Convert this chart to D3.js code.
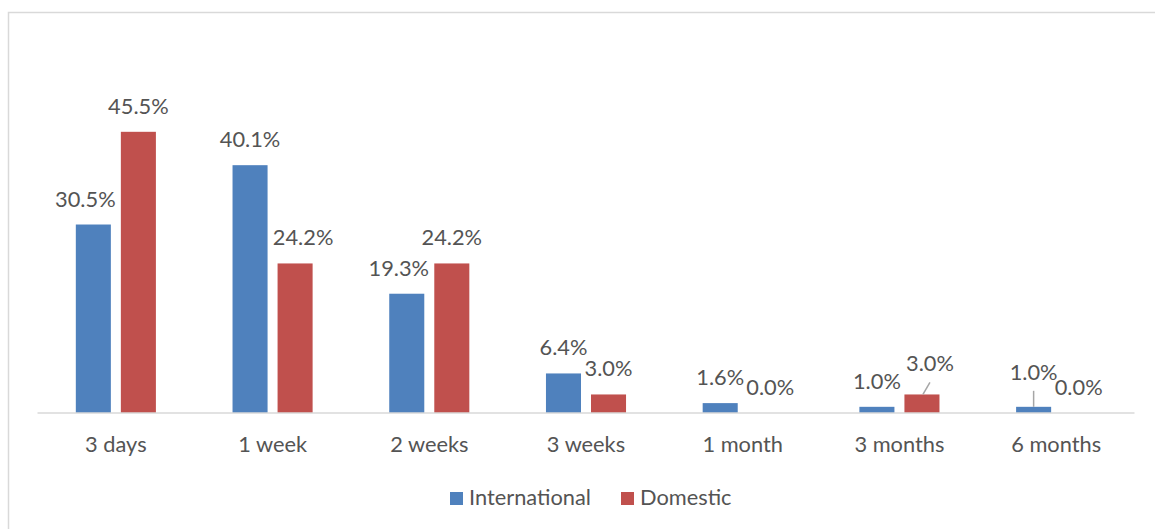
<!DOCTYPE html>
<html>
<head>
<meta charset="utf-8">
<script src="https://cdn.jsdelivr.net/npm/d3@7"></script>
<style>
  html, body { margin: 0; padding: 0; background: #ffffff; }
  svg { display: block; }
  text { font-family: Lato, "Open Sans", sans-serif; fill: #545454; }
</style>
</head>
<body>
<svg id="chart" width="1155" height="529"></svg>
<script>
// Time categories along the x axis
const categories = ["3 days", "1 week", "2 weeks", "3 weeks", "1 month", "3 months", "6 months"];
const seriesNames = ["International", "Domestic"];
// Share of respondents per category (%)
const international = [30.5, 40.1, 19.3, 6.4, 1.6, 1.0, 1.0];
const domestic = [45.5, 24.2, 24.2, 3.0, 0.0, 3.0, 0.0];
const colors = ["#4F81BD", "#C0504D"];

const W = 1155, H = 529;
const margin = { left: 37.5, right: 20.5, top: 104, baseline: 413 };
const fontSize = 21.8;

const svg = d3.select("#chart");

// Chart frame
svg.append("rect")
  .attr("x", 8.5).attr("y", 12.5)
  .attr("width", W + 20).attr("height", H + 20)
  .attr("fill", "#ffffff")
  .attr("stroke", "#d9d9d9").attr("stroke-width", 1.5);

const x0 = d3.scaleBand()
  .domain(categories)
  .range([margin.left, W - margin.right])
  .paddingInner(0.489)
  .paddingOuter(0.2445);

const x1 = d3.scaleBand()
  .domain(seriesNames)
  .range([0, x0.bandwidth()])
  .paddingInner(0.222);

const y = d3.scaleLinear().domain([0, 50]).range([margin.baseline, margin.top]);

const rows = categories.map((c, i) => ({
  category: c,
  values: [
    { series: seriesNames[0], value: international[i], color: colors[0] },
    { series: seriesNames[1], value: domestic[i], color: colors[1] }
  ]
}));

const groups = svg.append("g").selectAll("g")
  .data(rows).join("g")
  .attr("transform", d => `translate(${x0(d.category)},0)`);

groups.selectAll("rect")
  .data(d => d.values).join("rect")
  .attr("x", d => x1(d.series))
  .attr("y", d => y(d.value))
  .attr("width", x1.bandwidth())
  .attr("height", d => y(0) - y(d.value))
  .attr("fill", d => d.color);

// Baseline axis with category labels
const axis = svg.append("g")
  .attr("transform", `translate(0,${margin.baseline})`)
  .call(d3.axisBottom(x0).tickSize(0).tickPadding(0));
axis.select(".domain").attr("stroke", "#d9d9d9").attr("stroke-width", 1.5)
  .attr("d", `M${margin.left},0H${W - margin.right}`);
axis.selectAll(".tick text")
  .attr("y", 39).attr("dy", 0)
  .attr("font-size", fontSize)
  .style("font-family", "Lato, 'Open Sans', sans-serif")
  .attr("fill", "#545454");

// Hand-placed label nudges where neighbouring labels would collide [dx, dy]
const labelNudge = {
  "3 days|International": [-8, 0],
  "1 week|Domestic": [8, 0],
  "2 weeks|International": [-8, 0],
  "1 month|Domestic": [5, 0],
  "3 months|Domestic": [8, -5],
  "6 months|International": [0, -9]
};
const leaders = {
  "3 months|Domestic": true,
  "6 months|International": true
};

const labels = svg.append("g");
rows.forEach(r => {
  r.values.forEach(v => {
    const key = r.category + "|" + v.series;
    const n = labelNudge[key] || [0, 0];
    const cx = x0(r.category) + x1(v.series) + x1.bandwidth() / 2;
    const top = y(v.value);
    const lx = cx + n[0];
    const ly = top - 18 + n[1];
    labels.append("text")
      .attr("x", lx).attr("y", ly)
      .attr("text-anchor", "middle")
      .attr("font-size", fontSize)
      .text(v.value.toFixed(1) + "%");
    if (leaders[key]) {
      labels.append("line")
        .attr("x1", cx + (n[0] ? 1 : 0)).attr("y1", top)
        .attr("x2", lx).attr("y2", ly + 11)
        .attr("stroke", "#a6a6a6").attr("stroke-width", 1.5);
    }
  });
});

// Legend
const legend = svg.append("g").attr("transform", "translate(450,505)");
const legendItems = [
  { name: seriesNames[0], color: colors[0], x: 0 },
  { name: seriesNames[1], color: colors[1], x: 171 }
];
legendItems.forEach(it => {
  legend.append("rect")
    .attr("x", it.x).attr("y", -13)
    .attr("width", 13).attr("height", 13)
    .attr("fill", it.color);
  legend.append("text")
    .attr("x", it.x + 19).attr("y", 0)
    .attr("font-size", fontSize)
    .text(it.name);
});
</script>
</body>
</html>
